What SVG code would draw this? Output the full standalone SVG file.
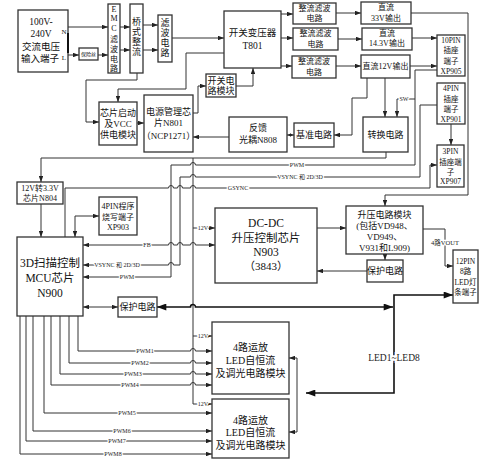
<svg xmlns="http://www.w3.org/2000/svg" width="504" height="461" viewBox="0 0 504 461">
<defs>
<marker id="a" viewBox="0 0 8 6" refX="8" refY="3" markerWidth="6" markerHeight="4.5" markerUnits="userSpaceOnUse" orient="auto-start-reverse"><path d="M0,0 L8,3 L0,6 z" fill="#222"/></marker>
<marker id="c" viewBox="0 0 8 6" refX="8" refY="3" markerWidth="4" markerHeight="3.5" markerUnits="userSpaceOnUse" orient="auto-start-reverse"><path d="M0,0 L8,3 L0,6 z" fill="#222"/></marker>
<marker id="b" viewBox="0 0 8 6" refX="8" refY="3" markerWidth="11" markerHeight="7" markerUnits="userSpaceOnUse" orient="auto-start-reverse"><path d="M0,0 L8,3 L0,6 z" fill="#111"/></marker>
</defs>
<style>
.b{fill:#fff;stroke:#333;stroke-width:1.3}
.l{fill:none;stroke:#333;stroke-width:1}
.k{fill:none;stroke:#111;stroke-width:1.6}
.m{marker-end:url(#a)}
.d{marker-start:url(#a);marker-end:url(#a)}
text{font-family:"Liberation Serif","Noto Sans CJK SC",serif;fill:#111;text-anchor:middle;dominant-baseline:central}
.f9{font-size:9px}
.f8{font-size:8px}
.f7{font-size:7.5px}
.lb{font-size:6px;stroke:#fff;stroke-width:2.5;paint-order:stroke;fill:#222}
</style>
<rect width="504" height="461" fill="#fff"/>

<g id="connectors">
<path class="l m" d="M68,27 H108"/>
<path class="l m" d="M68,55 H79"/>
<path class="l m" d="M98,55 H108"/>
<path class="l m" d="M120,27 H130"/>
<path class="l m" d="M120,50 H130"/>
<path class="l m" d="M143,25 H158"/>
<path class="l m" d="M143,50 H158"/>
<path class="l m" d="M172,38 H224"/>
<path class="l m" d="M281,14 H293"/>
<path class="l m" d="M281,38 H293"/>
<path class="l m" d="M281,66 H292"/>
<path class="l m" d="M336,13 H361"/>
<path class="l m" d="M338,39 H362"/>
<path class="l m" d="M336,66 H361"/>
<path class="l m" d="M412,38 H437"/>
<path class="l m" d="M410,66 H437"/>
<path class="l m" d="M411,13 H468 V195 H385 V206"/>
<path class="l m" d="M137,73 V80 H86 V122 H99"/>
<path class="l m" d="M224,53 H186 V89 H118 V102"/>
<path class="l m" d="M137,123 H144"/>
<path class="l m" d="M193,113 H198 V86 H206"/>
<path class="l m" d="M236,86 H253 V68"/>
<path class="l m" d="M229,137 H193"/>
<path class="l" d="M262,133 H277" marker-end="url(#c)"/>
<path class="l" d="M287,135 H294" marker-start="url(#c)" marker-end="url(#c)"/>
<path class="l m" d="M367,78 V98 H352 V135 H334"/>
<path class="l m" d="M385,78 V117"/>
<path class="l m" d="M415,99 H397 V117"/>
<path class="l m" d="M451,124 V145"/>
<path class="l m" d="M386,152 V158 H41 V182"/>
<path class="l m" d="M193,158 V404 H212"/>
<path class="l m" d="M193,228 H215"/>
<path class="l m" d="M193,336 H212"/>
<path class="l m" d="M437,70 H415 V165 H195.5 a2.5,2.5 0 0 0 -5,0 H171 V277 H83"/>
<path class="l m" d="M437,105 H420 V177 H195.5 a2.5,2.5 0 0 0 -5,0 H180 V265 H173.5 a2.5,2.5 0 0 0 -5,0 H83"/>
<path class="l m" d="M65,237 V188 H168.5 a2.5,2.5 0 0 1 5,0 H177.5 a2.5,2.5 0 0 1 5,0 H190.5 a2.5,2.5 0 0 1 5,0 H430 V165 H437"/>
<path class="l m" d="M41,204 V237"/>
<path class="l d" d="M75,237 V216 H99"/>
<path class="l d" d="M83,245 H168.5 a2.5,2.5 0 0 1 5,0 H177.5 a2.5,2.5 0 0 1 5,0 H190.5 a2.5,2.5 0 0 1 5,0 H215"/>
<path class="l m" d="M317,228 H346"/>
<path class="l m" d="M385,254 V260"/>
<path class="l m" d="M367,271 H317"/>
<path class="l m" d="M423,229 H445 V266 H453"/>
<path class="l d" d="M83,307 H118"/>
<path class="k" d="M157,307 H190.5 a2.5,2.5 0 0 1 5,0 H393" marker-start="url(#b)" marker-end="url(#b)"/>
<path class="k" d="M306,393 H394 V295 H453" marker-start="url(#b)" marker-end="url(#b)"/>
<path class="l d" d="M289,358 H297 V432 H289"/>
<path class="l m" d="M78,316 V351 H190.5 a2.5,2.5 0 0 1 5,0 H212"/>
<path class="l m" d="M69,316 V363 H190.5 a2.5,2.5 0 0 1 5,0 H212"/>
<path class="l m" d="M60,316 V374 H190.5 a2.5,2.5 0 0 1 5,0 H212"/>
<path class="l m" d="M51,316 V385 H190.5 a2.5,2.5 0 0 1 5,0 H212"/>
<path class="l m" d="M44,316 V413 H212"/>
<path class="l m" d="M33,316 V431 H212"/>
<path class="l m" d="M26,316 V441 H212"/>
<path class="l m" d="M20,316 V454 H212"/>
<text class="lb" x="404" y="99">SW</text>
<text class="lb" x="297" y="165">PWM</text>
<text class="lb" x="300" y="177">VSYNC 和 2D/3D</text>
<text class="lb" x="238" y="188">GSYNC</text>
<text class="lb" x="117" y="265">VSYNC 和 2D/3D</text>
<text class="lb" x="127" y="277">PWM</text>
<text class="lb" x="147" y="245">FB</text>
<text class="lb" x="203" y="228">12V</text>
<text class="lb" x="203" y="336">12V</text>
<text class="lb" x="203" y="404">12V</text>
<text class="lb" x="445" y="242" style="font-size:6.5px">4路VOUT</text>
<text class="lb" x="145" y="351">PWM1</text>
<text class="lb" x="140" y="363">PWM2</text>
<text class="lb" x="133" y="374">PWM3</text>
<text class="lb" x="130" y="385">PWM4</text>
<text class="lb" x="127" y="413">PWM5</text>
<text class="lb" x="122" y="431">PWM6</text>
<text class="lb" x="117" y="441">PWM7</text>
<text class="lb" x="113" y="454">PWM8</text>
<text class="lb" x="394" y="358" style="font-size:9.5px;stroke-width:4">LED1~LED8</text>
</g>

<g id="input"><rect class="b" x="18" y="10" width="50" height="62"/><path d="M68,33 V53" stroke="#111" stroke-width="2"/>
<text font-size="9.5" x="41" y="22">100V-</text><text font-size="9.5" x="41" y="34">240V</text><text font-size="9.5" x="41" y="47">交流电压</text><text font-size="9.5" x="40" y="59">输入端子</text>
<text font-size="7" x="64" y="32">N</text><text font-size="7" x="64" y="58">L</text></g>
<g id="fuse"><rect class="b" x="79" y="48" width="19" height="12"/><text font-size="5" x="88.5" y="54">保险丝</text></g>
<g id="emc"><rect class="b" x="108" y="4" width="12" height="69"/>
<text class="f8" x="114" y="9">E</text><text class="f8" x="114" y="18">M</text><text class="f8" x="114" y="28">C</text><text class="f8" x="114" y="39">滤</text><text class="f8" x="114" y="49">波</text><text class="f8" x="114" y="59">电</text><text class="f8" x="114" y="68">路</text></g>
<g id="bridge"><rect class="b" x="130" y="4" width="13" height="69"/>
<text class="f9" x="136.5" y="22">桥</text><text class="f9" x="136.5" y="32">式</text><text class="f9" x="136.5" y="42">整</text><text class="f9" x="136.5" y="52">流</text></g>
<g id="filter"><rect class="b" x="158" y="15" width="14" height="47"/>
<text class="f9" x="165" y="23">滤</text><text class="f9" x="165" y="33">波</text><text class="f9" x="165" y="43">电</text><text class="f9" x="165" y="53">路</text></g>
<g id="t801"><rect class="b" x="224" y="11" width="57" height="57"/>
<text font-size="9.5" x="252.5" y="33">开关变压器</text><text font-size="9.5" x="252.5" y="46">T801</text></g>
<g id="rect1"><rect class="b" x="293" y="3" width="43" height="21"/><text class="f8" x="314.5" y="8.5">整流滤波</text><text class="f8" x="314.5" y="18.5">电路</text></g>
<g id="rect2"><rect class="b" x="293" y="28" width="45" height="22"/><text class="f8" x="315.5" y="33.5">整流滤波</text><text class="f8" x="315.5" y="44">电路</text></g>
<g id="rect3"><rect class="b" x="292" y="56" width="44" height="22"/><text class="f8" x="314" y="61.5">整流滤波</text><text class="f8" x="314" y="72">电路</text></g>
<g id="dc33"><rect class="b" x="361" y="2" width="50" height="22"/><text class="f8" x="386" y="7.5">直流</text><text class="f8" x="386" y="18">33V输出</text></g>
<g id="dc143"><rect class="b" x="362" y="28" width="50" height="22"/><text class="f8" x="387" y="33">直流</text><text class="f8" x="387" y="43.5">14.3V输出</text></g>
<g id="dc12"><rect class="b" x="361" y="55" width="49" height="23"/><text class="f8" x="385.5" y="66">直流12V输出</text></g>
<g id="xp905"><rect class="b" x="437" y="35" width="28" height="41"/>
<text class="f7" x="451" y="40">10PIN</text><text class="f7" x="451" y="50.5">插座</text><text class="f7" x="451" y="61">端子</text><text class="f7" x="451" y="71">XP905</text></g>
<g id="xp901"><rect class="b" x="437" y="83" width="28" height="41"/>
<text class="f7" x="451" y="88.5">4PIN</text><text class="f7" x="451" y="99">插座</text><text class="f7" x="451" y="109">端子</text><text class="f7" x="451" y="119">XP901</text></g>
<g id="xp907"><rect class="b" x="437" y="145" width="27" height="42"/>
<text class="f7" x="450.5" y="151.5">3PIN</text><text class="f7" x="450.5" y="162">插座端</text><text class="f7" x="450.5" y="172">子</text><text class="f7" x="450.5" y="181.5">XP907</text></g>
<g id="switch"><rect class="b" x="206" y="74" width="30" height="23"/><text class="f9" x="221" y="80.5">开关电</text><text class="f9" x="221" y="91">路模块</text></g>
<g id="vcc"><rect class="b" x="99" y="102" width="38" height="43"/>
<text class="f9" x="118" y="113">芯片启动</text><text class="f9" x="118" y="124">及VCC</text><text class="f9" x="118" y="135">供电模块</text></g>
<g id="n801"><rect class="b" x="144" y="95" width="49" height="57"/>
<text class="f9" x="168.5" y="112">电源管理芯</text><text class="f9" x="168.5" y="123">片N801</text><text class="f9" x="168.5" y="136">（NCP1271）</text></g>
<g id="n808"><rect class="b" x="229" y="117" width="58" height="35"/><text class="f9" x="258" y="127.5">反馈</text><text class="f9" x="258" y="140">光耦N808</text></g>
<g id="ref"><rect class="b" x="294" y="123" width="40" height="24"/><text class="f9" x="314" y="135">基准电路</text></g>
<g id="conv"><rect class="b" x="363" y="117" width="45" height="35"/><text class="f9" x="385.5" y="135">转换电路</text></g>
<g id="n804"><rect class="b" x="17" y="182" width="46" height="22"/><text class="f8" x="40" y="188">12V转3.3V</text><text class="f8" x="40" y="198.5">芯片N804</text></g>
<g id="xp903"><rect class="b" x="99" y="197" width="38" height="38"/>
<text class="f8" x="118" y="206.5">4PIN程序</text><text class="f8" x="118" y="217">烧写端子</text><text class="f8" x="118" y="227.5">XP903</text></g>
<g id="mcu"><rect class="b" x="17" y="237" width="66" height="79"/>
<text font-size="11.5" x="50" y="263">3D扫描控制</text><text font-size="11.5" x="50" y="278">MCU芯片</text><text font-size="11.5" x="50" y="293">N900</text></g>
<g id="n903"><rect class="b" x="215" y="208" width="102" height="75"/>
<text font-size="11.5" x="266" y="223">DC-DC</text><text font-size="11.5" x="266" y="238">升压控制芯片</text><text font-size="11.5" x="266" y="252">N903</text><text font-size="11" x="266" y="266">（3843）</text></g>
<g id="boost"><rect class="b" x="346" y="206" width="77" height="48"/>
<text class="f9" x="384.5" y="215">升压电路模块</text><text class="f9" x="384.5" y="226">(包括VD948、</text><text class="f9" x="384.5" y="237">VD949、</text><text class="f9" x="384.5" y="248">V931和L909)</text></g>
<g id="prot2"><rect class="b" x="367" y="260" width="36" height="22"/><text class="f9" x="385" y="271">保护电路</text></g>
<g id="p12"><rect class="b" x="453" y="250" width="25" height="53"/>
<text class="f7" x="465.5" y="261">12PIN</text><text class="f7" x="465.5" y="271">8路</text><text class="f7" x="465.5" y="282">LED灯</text><text class="f7" x="465.5" y="292">条端子</text></g>
<g id="prot1"><rect class="b" x="118" y="297" width="39" height="20"/><text class="f9" x="137.5" y="307">保护电路</text></g>
<g id="amp1"><rect class="b" x="212" y="322" width="77" height="72"/>
<text font-size="10" x="250.5" y="347">4路运放</text><text font-size="10" x="250.5" y="360">LED自恒流</text><text font-size="10" x="250.5" y="373">及调光电路模块</text></g>
<g id="amp2"><rect class="b" x="212" y="399" width="77" height="59"/>
<text font-size="10" x="250.5" y="420">4路运放</text><text font-size="10" x="250.5" y="432">LED自恒流</text><text font-size="10" x="250.5" y="445">及调光电路模块</text></g>
</svg>
